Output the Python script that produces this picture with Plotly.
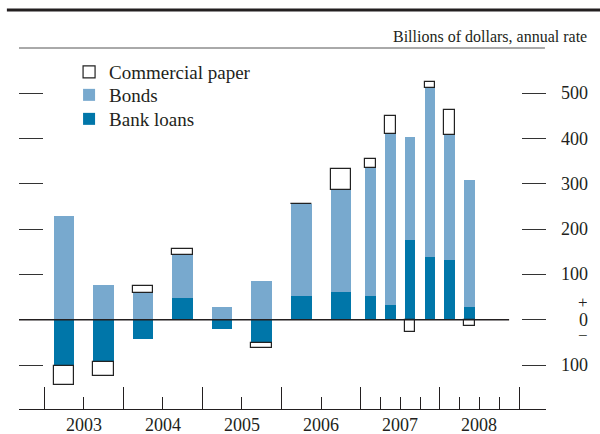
import plotly.graph_objects as go

# ---- data (billions of dollars, annual rate) ----
periods = ["2003-H1", "2003-H2", "2004-H1", "2004-H2", "2005-H1", "2005-H2",
           "2006-H1", "2006-H2", "2007-Q1", "2007-Q2", "2007-Q3", "2007-Q4",
           "2008-Q1", "2008-Q2"]
bank_loans = [-102, -94, -42, 48, -21, -51, 53, 61, 53, 32, 176, 138, 132, 28]
bonds = [230, 76, 59, 95, 28, 85, 202, 225, 283, 378, 227, 373, 275, 281]
commercial_paper = [-41, -31, 15, 13, 0, -11, 1, 46, 18, 39, -28, 15, 56, -14]

years = [2003, 2004, 2005, 2006, 2007, 2008]
y_tick_vals = [500, 400, 300, 200, 100, 0, -100]
y_tick_text = ["500", "400", "300", "200", "100", "0", "100"]

# ---- derived positions ----
def center(p):
    yr, part = p.split("-")
    n = int(part[1])
    if part[0] == "H":
        return int(yr) + (n - 0.5) / 2
    return int(yr) + (n - 0.5) / 4

def bwidth(p):
    return 0.26 if "H" in p else 0.134

xs = [center(p) for p in periods]
ws = [bwidth(p) for p in periods]

def nz(vals):
    return [v if v != 0 else None for v in vals]

DARK = "#0076A9"
LIGHT = "#78A9CE"
TXT = "#231F20"
FONT = "Liberation Serif"

x_range = [2002.684, 2009.341]
y_range = [-197, 600]

fig = go.Figure()
fig.add_trace(go.Bar(x=xs, y=nz(bank_loans), width=ws, name="Bank loans",
                     legend="legend3",
                     marker=dict(color=DARK, line=dict(width=0))))
fig.add_trace(go.Bar(x=xs, y=nz(bonds), width=ws, name="Bonds",
                     legend="legend2",
                     marker=dict(color=LIGHT, line=dict(width=0))))
fig.add_trace(go.Bar(x=xs, y=nz(commercial_paper), width=ws, name="Commercial paper",
                     legend="legend",
                     marker=dict(color="white", line=dict(color="#222222", width=1.2))))

annotations = []
for v, t in zip(y_tick_vals, y_tick_text):
    annotations.append(dict(x=1.0835, xref="paper", y=v, yref="y", text=t,
                            xanchor="right", yanchor="middle", showarrow=False,
                            height=14,
                            font=dict(family=FONT, size=18, color=TXT)))
annotations.append(dict(x=1.0835, xref="paper", y=39, yref="y", text="+",
                        xanchor="right", yanchor="middle", showarrow=False,
                        height=10,
                        font=dict(family=FONT, size=17, color=TXT)))
annotations.append(dict(x=1.0835, xref="paper", y=-34, yref="y", text="\u2212",
                        xanchor="right", yanchor="middle", showarrow=False,
                        height=10,
                        font=dict(family=FONT, size=17, color=TXT)))
for yv in years:
    annotations.append(dict(x=yv + 0.5, xref="x", y=-0.044, yref="paper", text=str(yv),
                            xanchor="center", yanchor="middle", showarrow=False,
                            font=dict(family=FONT, size=18, color=TXT)))
annotations.append(dict(x=1.0816, xref="paper", y=1.033, yref="paper",
                        text="Billions of dollars, annual rate",
                        xanchor="right", yanchor="middle", showarrow=False,
                        font=dict(family=FONT, size=16, color=TXT)))

shapes = [
    # thick rule at top
    dict(type="line", xref="paper", yref="paper", x0=-0.023, x1=1.11, y0=1.105, y1=1.105,
         line=dict(color="#231F20", width=3)),
    # thin rule at top of plot
    dict(type="line", xref="paper", yref="paper", x0=0, x1=0.998, y0=1.0, y1=1.0,
         line=dict(color="#555555", width=1)),
    # zero line
    dict(type="line", xref="paper", yref="y", x0=0, x1=0.93, y0=0, y1=0,
         line=dict(color="#231F20", width=1.5)),
]

def legend_at(ypaper):
    return dict(x=0.095, xanchor="left", y=ypaper, yanchor="middle",
                bgcolor="rgba(0,0,0,0)",
                font=dict(family=FONT, size=19, color=TXT))

fig.update_layout(
    width=600, height=434,
    margin=dict(l=19, r=54, t=48, b=25),
    paper_bgcolor="white", plot_bgcolor="white",
    barmode="relative",
    bargap=0,
    showlegend=True,
    legend=legend_at(0.9335),
    legend2=legend_at(0.8698),
    legend3=legend_at(0.8033),
    font=dict(family=FONT, color=TXT),
    xaxis=dict(range=x_range, showgrid=False, zeroline=False,
               showline=True, linecolor="#231F20", linewidth=1,
               ticks="inside", ticklen=22, tickcolor="#231F20", tickwidth=1,
               tickmode="array",
               tickvals=[x_range[0]] + [y for y in years] + [years[-1] + 1, x_range[1]],
               showticklabels=False,
               minor=dict(ticks="inside", ticklen=12, tickcolor="#231F20", tickwidth=1,
                          tickmode="array",
                          tickvals=[2003.5, 2004.5, 2005.5, 2006.5,
                                    2007.25, 2007.5, 2007.75,
                                    2008.25, 2008.5, 2008.75])),
    yaxis=dict(range=y_range, showgrid=False, zeroline=False, showline=False,
               ticks="inside", ticklen=24, tickcolor="#333333", tickwidth=1,
               tickmode="array", tickvals=[v for v in y_tick_vals if v != 0],
               showticklabels=False),
    yaxis2=dict(range=y_range, overlaying="y", side="right", showgrid=False,
                zeroline=False, showline=False, ticks="inside", ticklen=24,
                tickcolor="#333333", tickwidth=1, tickmode="array",
                tickvals=y_tick_vals, showticklabels=False),
    annotations=annotations,
    shapes=shapes,
)
fig.add_trace(go.Scatter(x=[None], y=[None], yaxis="y2", showlegend=False,
                         hoverinfo="skip"))

fig.write_html("out.html",
               config={"displayModeBar": False},
               post_script="document.body.style.margin='0';"
                           "document.body.style.overflow='hidden';")
